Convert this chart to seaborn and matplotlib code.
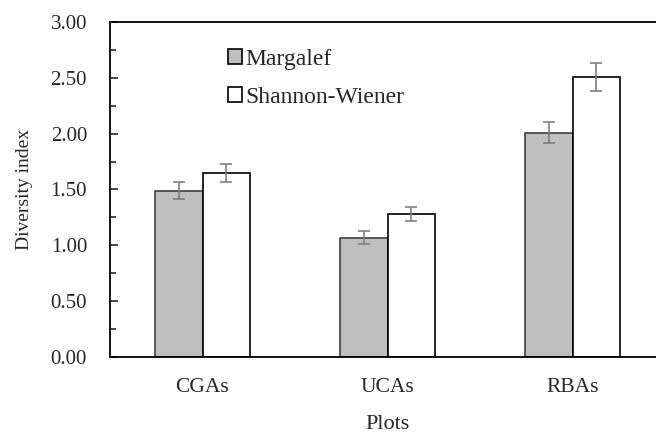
import pandas as pd
import matplotlib.pyplot as plt
import seaborn as sns
from matplotlib.ticker import MultipleLocator

plots = ['CGAs', 'UCAs', 'RBAs']
indices = ['Margalef', 'Shannon-Wiener']
margalef = [1.49, 1.07, 2.01]
margalef_err = [0.076, 0.055, 0.098]
shannon = [1.65, 1.28, 2.51]
shannon_err = [0.082, 0.065, 0.125]

df = pd.DataFrame({
    'Plots': plots * 2,
    'Index': [indices[0]] * 3 + [indices[1]] * 3,
    'Value': margalef + shannon,
})
errs = {indices[0]: margalef_err, indices[1]: shannon_err}

sns.set_style('ticks')
plt.rcParams['font.family'] = ['Liberation Serif', 'DejaVu Serif']

fig = plt.figure(figsize=(6.56, 4.34), dpi=100)
ax = fig.add_axes([110 / 656, 77 / 434, 555 / 656, 335 / 434])

sns.barplot(data=df, x='Plots', y='Value', hue='Index', order=plots,
            hue_order=indices, palette={indices[0]: '#bfbfbf', indices[1]: 'white'},
            width=0.51, gap=0, errorbar=None, saturation=1,
            edgecolor='black', linewidth=1.2, ax=ax)

edge_cols = ['#404040', 'black']
for cont, name, ec in zip(ax.containers, indices, edge_cols):
    for bar in cont:
        bar.set_edgecolor(ec)
    xs = [b.get_x() + b.get_width() / 2 for b in cont]
    ys = [b.get_height() for b in cont]
    ax.errorbar(xs, ys, yerr=errs[name], fmt='none', ecolor='#7f7f7f',
                elinewidth=1.2, capsize=4.3, capthick=1.2, zorder=5)

ax.set_xlim(-0.5, 2.5)
ax.set_ylim(0, 3)
ax.yaxis.set_major_locator(MultipleLocator(0.5))
ax.yaxis.set_minor_locator(MultipleLocator(0.25))
ax.yaxis.set_major_formatter(plt.FormatStrFormatter('%.2f'))
ax.tick_params(axis='y', which='major', direction='in', length=6, width=1.2, labelsize=15, pad=16.5)
ax.tick_params(axis='y', which='minor', direction='in', length=4, width=1.2)
ax.tick_params(axis='x', length=0, labelsize=15.5, pad=15)
for s in ax.spines.values():
    s.set_linewidth(1.3)
    s.set_color('black')

ax.set_xlabel('Plots', fontsize=16, labelpad=13)
ax.set_ylabel('Diversity index', fontsize=14, labelpad=13)

leg = ax.legend(loc='upper left', bbox_to_anchor=(0.2126, 0.92), frameon=False,
                fontsize=17, handlelength=0.6, handleheight=0.6,
                handletextpad=0.13, labelspacing=0.72,
                borderpad=0, borderaxespad=0)

fig.savefig('out.png', dpi=100)
